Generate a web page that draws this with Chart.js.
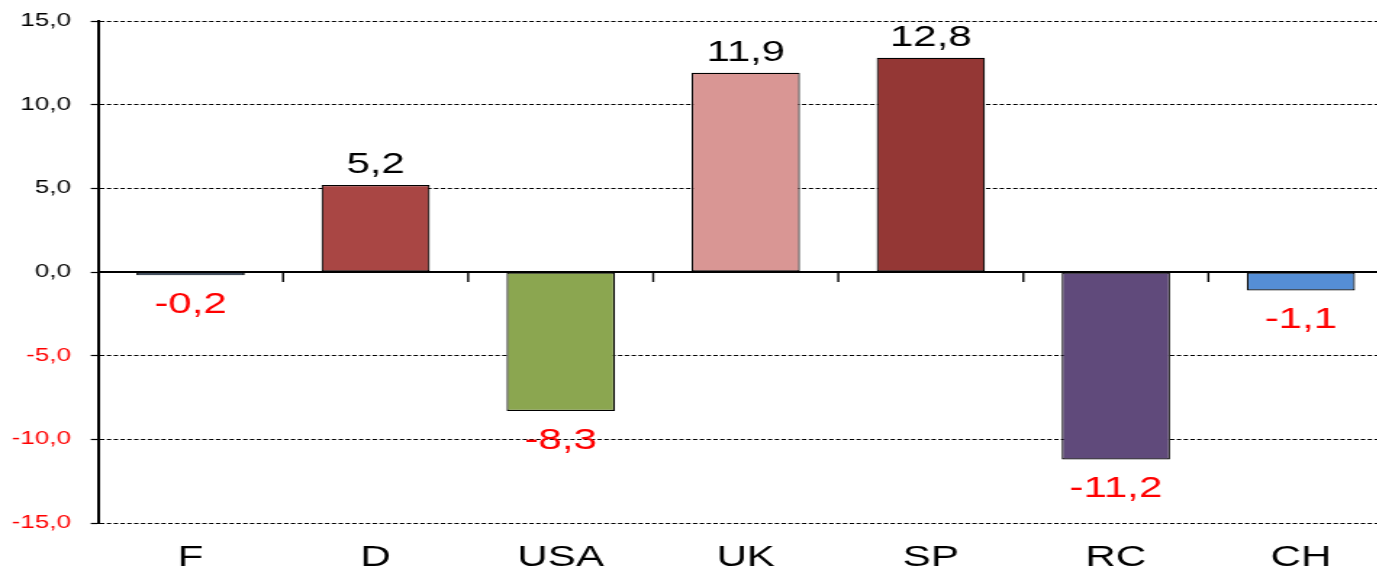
<!DOCTYPE html>
<html>
<head>
<meta charset="utf-8">
<script src="https://cdn.jsdelivr.net/npm/chart.js@4/dist/chart.umd.min.js"></script>
<style>
  html, body { margin: 0; padding: 0; background: #fff; overflow: hidden; }
  #wrap { position: absolute; left: 0; top: 0; width: 961px; height: 574px; transform: scaleX(1.45); transform-origin: 0 0; }
  #c { display: block; width: 961px; height: 574px; }
</style>
</head>
<body>
<div id="wrap"><canvas id="c" width="961" height="574"></canvas></div>
<script>
const categories = ['F', 'D', 'USA', 'UK', 'SP', 'RC', 'CH'];
const values = [-0.2, 5.2, -8.3, 11.9, 12.8, -11.2, -1.1];
const barColors = ['#4F81BD', '#A94644', '#8BA650', '#D99694', '#943735', '#604A7B', '#558ED5'];
const yTicks = [-15, -10, -5, 0, 5, 10, 15];

const fmt = v => v.toFixed(1).replace('.', ',');
const FONT = '"Liberation Sans", Arial, sans-serif';

const axisPlugin = {
  id: 'axisPlugin',
  afterDatasetsDraw(chart) {
    const ctx = chart.ctx;
    const x = chart.scales.x, y = chart.scales.y;
    const area = chart.chartArea;
    const y0 = y.getPixelForValue(0);
    ctx.save();
    ctx.strokeStyle = '#000';
    ctx.lineWidth = 2;
    ctx.beginPath();
    ctx.moveTo(area.left, y0);
    ctx.lineTo(area.right, y0);
    ctx.stroke();
    ctx.lineWidth = 1.4;
    for (let i = 1; i < categories.length; i++) {
      const bx = (x.getPixelForValue(i - 1) + x.getPixelForValue(i)) / 2;
      ctx.beginPath();
      ctx.moveTo(bx, y0);
      ctx.lineTo(bx, y0 + 10);
      ctx.stroke();
    }
    // data labels
    const meta = chart.getDatasetMeta(0);
    ctx.font = '29px ' + FONT;
    ctx.textAlign = 'center';
    ctx.textBaseline = 'middle';
    meta.data.forEach((bar, i) => {
      const v = values[i];
      if (v >= 0) {
        ctx.fillStyle = '#000';
        ctx.fillText(fmt(v), bar.x, bar.y - 20);
      } else {
        ctx.fillStyle = '#FF0000';
        ctx.fillText(fmt(v), bar.x, bar.y + 30);
      }
    });
    ctx.restore();
  }
};

new Chart(document.getElementById('c'), {
  type: 'bar',
  data: {
    labels: categories,
    datasets: [{
      data: values,
      backgroundColor: barColors,
      borderColor: '#000',
      borderWidth: 1.2,
      borderSkipped: false,
      barPercentage: 0.585,
      categoryPercentage: 1
    }]
  },
  options: {
    responsive: false,
    animation: false,
    devicePixelRatio: 1,
    layout: { autoPadding: false, padding: { top: 21, left: 0, right: 0, bottom: 0 } },
    plugins: { legend: { display: false }, tooltip: { enabled: false } },
    scales: {
      x: {
        offset: true,
        grid: { display: false, drawTicks: false },
        border: { display: false },
        ticks: { color: '#000', font: { family: FONT, size: 29 }, padding: 18 },
        afterFit(scale) { scale.height = 51; scale.paddingLeft = 0; scale.paddingRight = 0; }
      },
      y: {
        min: -15,
        max: 15,
        afterBuildTicks(scale) { scale.ticks = yTicks.map(v => ({ value: v })); },
        grid: {
          color: c => (c.tick && c.tick.value === 0) ? 'rgba(0,0,0,0)' : '#000',
          lineWidth: 1,
          tickColor: '#000',
          tickLength: 5,
          tickWidth: 1.2
        },
        border: { display: true, color: '#000', width: 2, dash: [3, 1.7] },
        ticks: {
          color: c => c.tick.value < 0 ? '#FF0000' : '#000',
          font: { family: FONT, size: 18 },
          padding: 13.5,
          callback: v => fmt(v)
        },
        afterFit(scale) { scale.width = 67.6; scale.paddingTop = 0; scale.paddingBottom = 0; }
      }
    }
  },
  plugins: [axisPlugin]
});
</script>
</body>
</html>
